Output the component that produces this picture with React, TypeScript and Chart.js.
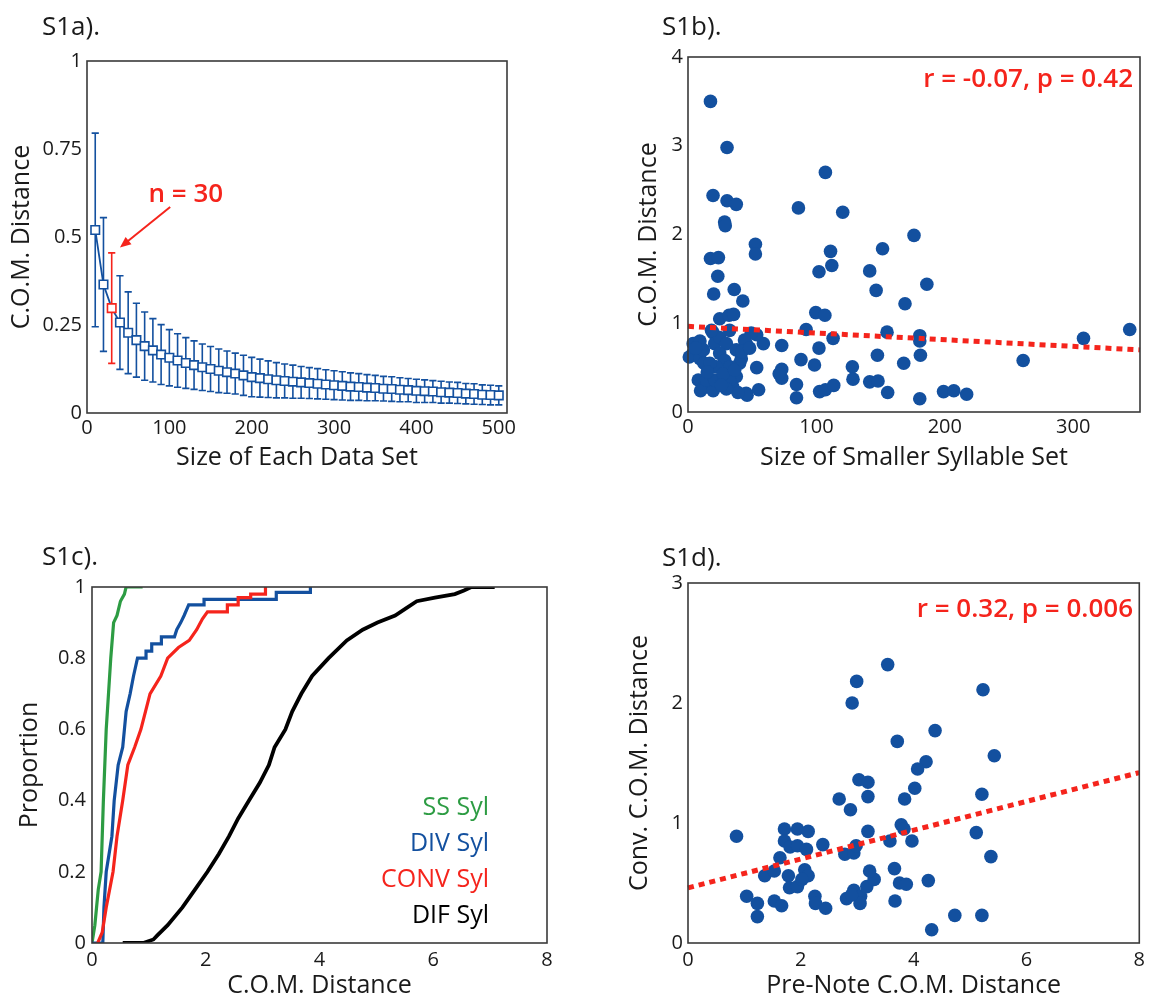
import React, { useEffect, useRef } from "react";
import { Chart, registerables } from "chart.js";

Chart.register(...registerables);

// ---------------- data ----------------
// S1a: size of each data set vs mean C.O.M. distance (+/- error)
const sizeA = [10, 20, 30, 40, 50, 60, 70, 80, 90, 100, 110, 120, 130, 140, 150, 160, 170, 180, 190, 200, 210, 220, 230, 240, 250, 260, 270, 280, 290, 300, 310, 320, 330, 340, 350, 360, 370, 380, 390, 400, 410, 420, 430, 440, 450, 460, 470, 480, 490, 500];
const meanA = [0.52, 0.365, 0.298, 0.257, 0.228, 0.207, 0.19, 0.178, 0.166, 0.157, 0.149, 0.142, 0.136, 0.13, 0.125, 0.12, 0.116, 0.112, 0.107, 0.102, 0.099, 0.096, 0.093, 0.091, 0.089, 0.087, 0.085, 0.083, 0.081, 0.079, 0.077, 0.075, 0.074, 0.072, 0.071, 0.069, 0.068, 0.066, 0.065, 0.063, 0.062, 0.061, 0.059, 0.058, 0.057, 0.055, 0.054, 0.052, 0.051, 0.05];
const errA = [0.275, 0.19, 0.157, 0.133, 0.116, 0.105, 0.097, 0.09, 0.085, 0.08, 0.076, 0.072, 0.069, 0.066, 0.064, 0.062, 0.06, 0.058, 0.057, 0.056, 0.054, 0.052, 0.05, 0.048, 0.047, 0.045, 0.044, 0.043, 0.042, 0.041, 0.04, 0.039, 0.038, 0.037, 0.036, 0.035, 0.035, 0.034, 0.033, 0.033, 0.032, 0.031, 0.031, 0.03, 0.03, 0.029, 0.029, 0.028, 0.028, 0.027];
const highlightN = 30;
const ticksAX = [0, 100, 200, 300, 400, 500];
const ticksAY = [0, 0.25, 0.5, 0.75, 1];

// S1b: size of smaller syllable set vs C.O.M. distance
const sizeB = [17.5, 30.4, 107, 19.5, 30.4, 37.6, 86, 120.5, 28.5, 29, 52.5, 52.5, 17.5, 23.7, 23.2, 20, 36, 42.7, 111, 112, 102, 176, 151.5, 141.5, 146.5, 169, 186, 99.5, 106.6, 24.7, 32, 35.5, 92, 155, 180.5, 180.5, 113, 344, 308, 261, 102, 147.5, 181, 168, 88, 98.5, 128, 128.5, 84.5, 84.5, 102.5, 107, 113.5, 141.5, 148, 155.5, 180.5, 199, 207, 217, 73, 73, 73, 71, 53.5, 55, 46, 58.7, 53.5, 4, 9.3, 4, 1, 9.3, 12.4, 8, 13, 9.8, 19.6, 19.6, 20.8, 24.7, 29.9, 24.7, 28.6, 32.4, 40.2, 37.6, 45.3, 49.2, 44, 37.6, 35, 45.3, 32.4, 14.4, 20.8, 38.9, 29.9, 22, 17, 27.3, 36.3, 32.4, 18.3, 41.5, 12, 6, 15, 26, 42, 48];
const comB = [3.5, 2.98, 2.7, 2.44, 2.38, 2.34, 2.3, 2.25, 2.14, 2.1, 1.89, 1.78, 1.73, 1.74, 1.53, 1.33, 1.38, 1.25, 1.81, 1.65, 1.58, 1.99, 1.84, 1.59, 1.37, 1.22, 1.44, 1.12, 1.09, 1.05, 1.09, 1.1, 0.93, 0.9, 0.86, 0.8, 0.83, 0.93, 0.83, 0.58, 0.72, 0.64, 0.64, 0.55, 0.59, 0.53, 0.51, 0.37, 0.31, 0.16, 0.23, 0.25, 0.3, 0.34, 0.35, 0.22, 0.15, 0.23, 0.24, 0.2, 0.75, 0.48, 0.38, 0.43, 0.5, 0.25, 0.19, 0.77, 0.87, 0.77, 0.8, 0.66, 0.62, 0.6, 0.55, 0.36, 0.28, 0.24, 0.24, 0.89, 0.77, 0.84, 0.77, 0.66, 0.58, 0.51, 0.55, 0.7, 0.77, 0.89, 0.81, 0.4, 0.28, 0.21, 0.36, 0.36, 0.36, 0.22, 0.26, 0.51, 0.55, 0.43, 0.47, 0.92, 0.92, 0.6, 0.7, 0.72, 0.45, 0.3, 0.68, 0.72];
const fitBX = [0, 352];
const fitBY = [0.965, 0.7];
const ticksBX = [0, 100, 200, 300];
const ticksBY = [0, 1, 2, 3, 4];
const statB = "r = -0.07, p = 0.42";

// S1c: cumulative proportions of C.O.M. distance
const ssX = [0, 0.05, 0.11, 0.16, 0.2, 0.25, 0.29, 0.33, 0.38, 0.44, 0.5, 0.57, 0.6, 0.89];
const ssY = [0, 0.05, 0.15, 0.2, 0.4, 0.6, 0.7, 0.8, 0.9, 0.92, 0.96, 0.98, 1, 1];
const divX = [0, 0.19, 0.21, 0.25, 0.35, 0.39, 0.46, 0.54, 0.57, 0.6, 0.67, 0.73, 0.8, 0.95, 0.95, 1.05, 1.05, 1.22, 1.22, 1.45, 1.49, 1.56, 1.62, 1.7, 1.97, 1.97, 3.24, 3.24, 3.84, 3.84];
const divY = [0, 0, 0.1, 0.2, 0.3, 0.4, 0.5, 0.55, 0.6, 0.65, 0.7, 0.75, 0.8, 0.8, 0.82, 0.82, 0.84, 0.84, 0.86, 0.86, 0.88, 0.9, 0.92, 0.95, 0.95, 0.965, 0.965, 0.985, 0.985, 1];
const convX = [0.1, 0.18, 0.25, 0.37, 0.44, 0.54, 0.63, 0.75, 0.86, 0.94, 1.02, 1.21, 1.33, 1.52, 1.71, 1.84, 1.94, 2.03, 2.38, 2.38, 2.57, 2.57, 2.79, 2.79, 3.05, 3.05];
const convY = [0, 0.03, 0.1, 0.2, 0.3, 0.4, 0.5, 0.55, 0.6, 0.65, 0.7, 0.75, 0.8, 0.83, 0.85, 0.88, 0.91, 0.93, 0.93, 0.95, 0.95, 0.97, 0.97, 0.98, 0.98, 1];
const difX = [0.54, 0.9, 1.08, 1.14, 1.33, 1.59, 1.81, 2.03, 2.23, 2.41, 2.57, 2.76, 2.95, 3.11, 3.21, 3.4, 3.52, 3.68, 3.87, 4.16, 4.48, 4.76, 5.02, 5.33, 5.52, 5.71, 6.03, 6.38, 6.54, 6.67, 7.08];
const difY = [0, 0, 0.01, 0.02, 0.05, 0.1, 0.15, 0.2, 0.25, 0.3, 0.35, 0.4, 0.45, 0.5, 0.55, 0.6, 0.65, 0.7, 0.75, 0.8, 0.85, 0.88, 0.9, 0.92, 0.94, 0.96, 0.97, 0.98, 0.99, 1, 1];
const seriesC = ["SS Syl", "DIV Syl", "CONV Syl", "DIF Syl"];
const ticksCX = [0, 2, 4, 6, 8];
const ticksCY = [0, 0.2, 0.4, 0.6, 0.8, 1];

// S1d: pre-note C.O.M. distance vs conv. C.O.M. distance
const preD = [3.54, 2.99, 2.91, 5.23, 4.38, 3.71, 5.43, 4.22, 4.07, 4.02, 3.84, 3.03, 3.19, 3.19, 2.68, 2.88, 5.21, 3.78, 3.83, 3.97, 3.58, 3.19, 5.11, 5.37, 4.26, 3.66, 3.75, 3.87, 3.67, 4.32, 4.73, 5.21, 0.86, 1.04, 1.23, 1.23, 1.36, 1.53, 1.53, 1.66, 1.63, 1.71, 1.71, 1.94, 2.13, 1.81, 1.94, 2.1, 2.39, 1.78, 1.8, 1.94, 2.07, 2.13, 2.02, 2.25, 2.26, 2.44, 2.78, 2.94, 2.98, 2.81, 2.94, 3.06, 3.05, 3.17, 3.3, 3.22, 2.9];
const convD = [2.32, 2.18, 2.0, 2.11, 1.77, 1.68, 1.56, 1.51, 1.45, 1.29, 1.2, 1.36, 1.34, 1.22, 1.2, 1.11, 1.24, 0.985, 0.95, 0.85, 0.85, 0.93, 0.92, 0.72, 0.52, 0.62, 0.5, 0.49, 0.35, 0.11, 0.23, 0.23, 0.89, 0.39, 0.33, 0.22, 0.56, 0.6, 0.35, 0.31, 0.71, 0.95, 0.85, 0.95, 0.93, 0.8, 0.81, 0.78, 0.82, 0.56, 0.46, 0.47, 0.61, 0.56, 0.53, 0.39, 0.33, 0.29, 0.74, 0.75, 0.81, 0.37, 0.44, 0.39, 0.33, 0.47, 0.53, 0.6, 0.4];
const fitDX = [0, 8];
const fitDY = [0.46, 1.42];
const ticksDX = [0, 2, 4, 6, 8];
const ticksDY = [0, 1, 2, 3];
const statD = "r = 0.32, p = 0.006";

// ---------------- styles ----------------
const FONT = '"Open Sans", "Noto Sans", "DejaVu Sans", sans-serif';
const TXT = "#1a1a1a";
const BLUE = "#13509f";
const RED = "#f5241c";
const GREEN = "#2d9c43";
const BOXC = "#3a3a3a";

type Geo = {
  w: number; h: number; left: number; top: number; right: number; bottom: number;
  yTitlePad: number; xTitlePad: number; xTickPad: number; yTickPad: number;
};

const pts = (xs: number[], ys: number[]) => xs.map((x, i) => ({ x, y: ys[i] }));

function scales(g: Geo, xr: [number, number], yr: [number, number], xt: number[], yt: number[], xTitle: string, yTitle: string) {
  const tickFont = { family: FONT, size: 20 };
  const titleFont = { family: FONT, size: 25 };
  return {
    x: {
      type: "linear" as const,
      min: xr[0], max: xr[1],
      grid: { display: false, drawTicks: false, tickLength: 0 },
      border: { display: false },
      ticks: { font: tickFont, color: TXT, padding: g.xTickPad, maxRotation: 0, autoSkip: false, callback: (v: any) => String(v) },
      afterBuildTicks: (s: any) => { s.ticks = xt.map((v) => ({ value: v })); },
      afterFit: (s: any) => { s.height = g.h - g.bottom; },
      title: { display: true, text: xTitle, font: titleFont, color: TXT, padding: { top: 0, bottom: g.xTitlePad } },
    },
    y: {
      type: "linear" as const,
      min: yr[0], max: yr[1],
      grid: { display: false, drawTicks: false, tickLength: 0 },
      border: { display: false },
      ticks: { font: tickFont, color: TXT, padding: g.yTickPad, autoSkip: false, callback: (v: any) => String(v) },
      afterBuildTicks: (s: any) => { s.ticks = yt.map((v) => ({ value: v })); },
      afterFit: (s: any) => { s.width = g.left; },
      title: { display: true, text: yTitle, font: titleFont, color: TXT, padding: { top: g.yTitlePad, bottom: 0 } },
    },
  };
}

function baseOptions(g: Geo) {
  return {
    responsive: false,
    animation: false as const,
    devicePixelRatio: 1,
    layout: { padding: { top: g.top, right: g.w - g.right, left: 0, bottom: 0 } },
    plugins: { legend: { display: false }, tooltip: { enabled: false } },
  };
}

const boxPlugin = {
  id: "box",
  afterDraw(chart: any) {
    const { ctx, chartArea: a } = chart;
    ctx.save();
    ctx.strokeStyle = BOXC;
    ctx.lineWidth = 1.6;
    ctx.strokeRect(a.left, a.top, a.right - a.left, a.bottom - a.top);
    ctx.restore();
  },
};

type Note = { text: string; x: number; y: number; color: string; size: number; weight: string; align: CanvasTextAlign };
function notesPlugin(id: string, notes: Note[]) {
  return {
    id,
    afterDraw(chart: any) {
      const { ctx, chartArea: a } = chart;
      ctx.save();
      for (const n of notes) {
        ctx.font = `${n.weight} ${n.size}px ${FONT}`;
        ctx.fillStyle = n.color;
        ctx.textAlign = n.align;
        ctx.textBaseline = "middle";
        ctx.fillText(n.text, a.left + n.x, a.top + n.y);
      }
      ctx.restore();
    },
  };
}

const errorBarPlugin = {
  id: "errbars",
  beforeDatasetsDraw(chart: any) {
    const { ctx } = chart;
    const xs = chart.scales.x;
    const ys = chart.scales.y;
    ctx.save();
    ctx.lineWidth = 1.6;
    sizeA.forEach((s, i) => {
      const px = xs.getPixelForValue(s);
      const top = ys.getPixelForValue(meanA[i] + errA[i]);
      const bot = ys.getPixelForValue(meanA[i] - errA[i]);
      ctx.strokeStyle = s === highlightN ? RED : BLUE;
      ctx.beginPath();
      ctx.moveTo(px, top); ctx.lineTo(px, bot);
      ctx.moveTo(px - 3.6, top); ctx.lineTo(px + 3.6, top);
      ctx.moveTo(px - 3.6, bot); ctx.lineTo(px + 3.6, bot);
      ctx.stroke();
    });
    ctx.restore();
  },
};

const pointerPlugin = {
  id: "pointer",
  afterDraw(chart: any) {
    const { ctx } = chart;
    const xs = chart.scales.x;
    const ys = chart.scales.y;
    const tx = xs.getPixelForValue(120), ty = ys.getPixelForValue(0.62);
    ctx.save();
    ctx.font = `600 26px ${FONT}`;
    ctx.fillStyle = RED;
    ctx.textAlign = "center";
    ctx.textBaseline = "middle";
    ctx.fillText(`n = ${highlightN}`, tx, ty);
    const x0 = xs.getPixelForValue(101), y0 = ys.getPixelForValue(0.585);
    const x1 = xs.getPixelForValue(40), y1 = ys.getPixelForValue(0.47);
    const ang = Math.atan2(y1 - y0, x1 - x0);
    ctx.strokeStyle = RED;
    ctx.lineWidth = 2;
    ctx.beginPath();
    ctx.moveTo(x0, y0);
    ctx.lineTo(x1 - 6 * Math.cos(ang), y1 - 6 * Math.sin(ang));
    ctx.stroke();
    ctx.beginPath();
    ctx.moveTo(x1, y1);
    ctx.lineTo(x1 - 12 * Math.cos(ang - 0.4), y1 - 12 * Math.sin(ang - 0.4));
    ctx.lineTo(x1 - 12 * Math.cos(ang + 0.4), y1 - 12 * Math.sin(ang + 0.4));
    ctx.closePath();
    ctx.fill();
    ctx.restore();
  },
};

const geoA: Geo = { w: 575, h: 490, left: 87, top: 61, right: 507, bottom: 413, yTitlePad: 7, xTitlePad: 17, xTickPad: 3, yTickPad: 5 };
const geoB: Geo = { w: 575, h: 490, left: 113, top: 57, right: 565, bottom: 412, yTitlePad: 59, xTitlePad: 17, xTickPad: 3, yTickPad: 5 };
const geoC: Geo = { w: 575, h: 501, left: 92, top: 87, right: 547, bottom: 443, yTitlePad: 15, xTitlePad: 0, xTickPad: 5, yTickPad: 6 };
const geoD: Geo = { w: 575, h: 501, left: 113, top: 83, right: 566, bottom: 443, yTitlePad: 50, xTitlePad: 0, xTickPad: 5, yTickPad: 5 };

function fitLine(xs: number[], ys: number[]) {
  return {
    type: "line" as const,
    data: pts(xs, ys),
    borderColor: RED,
    borderWidth: 5,
    borderDash: [6, 5],
    borderCapStyle: "butt" as const,
    pointRadius: 0,
    order: 0,
    clip: false as const,
  };
}

function scatterSet(xs: number[], ys: number[]) {
  return {
    type: "scatter" as const,
    data: pts(xs, ys),
    backgroundColor: BLUE,
    borderWidth: 0,
    pointRadius: 6.8,
    order: 1,
    clip: false as const,
  };
}

export default function App() {
  const refA = useRef<HTMLCanvasElement>(null);
  const refB = useRef<HTMLCanvasElement>(null);
  const refC = useRef<HTMLCanvasElement>(null);
  const refD = useRef<HTMLCanvasElement>(null);

  useEffect(() => {
    const charts: Chart[] = [];

    charts.push(new Chart(refA.current!, {
      type: "line",
      data: {
        datasets: [{
          data: pts(sizeA, meanA),
          borderColor: BLUE,
          borderWidth: 1.8,
          pointStyle: "rect",
          pointRadius: 6,
          pointBorderWidth: 1.6,
          pointBorderColor: sizeA.map((s) => (s === highlightN ? RED : BLUE)),
          pointBackgroundColor: "#ffffff",
          tension: 0,
        }],
      },
      options: {
        ...baseOptions(geoA),
        scales: scales(geoA, [0, 510], [0, 1], ticksAX, ticksAY, "Size of Each Data Set", "C.O.M. Distance"),
      } as any,
      plugins: [errorBarPlugin, pointerPlugin, boxPlugin],
    }));

    charts.push(new Chart(refB.current!, {
      type: "scatter",
      data: { datasets: [fitLine(fitBX, fitBY), scatterSet(sizeB, comB)] as any },
      options: {
        ...baseOptions(geoB),
        scales: scales(geoB, [0, 352], [0, 4], ticksBX, ticksBY, "Size of Smaller Syllable Set", "C.O.M. Distance"),
      } as any,
      plugins: [boxPlugin, notesPlugin("statB", [{ text: statB, x: 445, y: 23, color: RED, size: 26, weight: "600", align: "right" }])],
    }));

    const cdf = [
      { x: ssX, y: ssY, c: GREEN, w: 3.2 },
      { x: divX, y: divY, c: BLUE, w: 3.2 },
      { x: convX, y: convY, c: RED, w: 3.2 },
      { x: difX, y: difY, c: "#000000", w: 3.8 },
    ];
    charts.push(new Chart(refC.current!, {
      type: "line",
      data: {
        datasets: cdf.map((s, i) => ({
          label: seriesC[i],
          data: pts(s.x, s.y),
          borderColor: s.c,
          borderWidth: s.w,
          pointRadius: 0,
          tension: 0,
          order: 3 - i,
          borderJoinStyle: "miter" as const,
        })),
      },
      options: {
        ...baseOptions(geoC),
        scales: scales(geoC, [0, 8], [0, 1], ticksCX, ticksCY, "C.O.M. Distance", "Proportion"),
      } as any,
      plugins: [boxPlugin, notesPlugin("legendC", seriesC.map((t, i) => ({
        text: t, x: 397, y: 221 + i * 36, color: cdf[i].c, size: 25, weight: "400", align: "right" as CanvasTextAlign,
      })))],
    }));

    charts.push(new Chart(refD.current!, {
      type: "scatter",
      data: { datasets: [fitLine(fitDX, fitDY), scatterSet(preD, convD)] as any },
      options: {
        ...baseOptions(geoD),
        scales: scales(geoD, [0, 8], [0, 3], ticksDX, ticksDY, "Pre-Note C.O.M. Distance", "Conv. C.O.M. Distance"),
      } as any,
      plugins: [boxPlugin, notesPlugin("statD", [{ text: statD, x: 445, y: 27, color: RED, size: 26, weight: "600", align: "right" }])],
    }));

    return () => charts.forEach((c) => c.destroy());
  }, []);

  const label = (text: string, left: number, top: number) => (
    <div style={{ position: "absolute", left, top, font: `26px ${FONT}`, lineHeight: "30px", color: TXT, whiteSpace: "nowrap" }}>{text}</div>
  );
  const cv = (ref: any, left: number, top: number, g: Geo) => (
    <canvas ref={ref} width={g.w} height={g.h} style={{ position: "absolute", left, top, width: g.w, height: g.h }} />
  );

  return (
    <div style={{ position: "absolute", left: 0, top: 0, width: 1150, height: 1001, background: "#ffffff", overflow: "hidden" }}>
      {cv(refA, 0, 0, geoA)}
      {cv(refB, 575, 0, geoB)}
      {cv(refC, 0, 500, geoC)}
      {cv(refD, 575, 500, geoD)}
      {label("S1a).", 42, 10)}
      {label("S1b).", 662, 10)}
      {label("S1c).", 42, 540)}
      {label("S1d).", 662, 541)}
    </div>
  );
}
